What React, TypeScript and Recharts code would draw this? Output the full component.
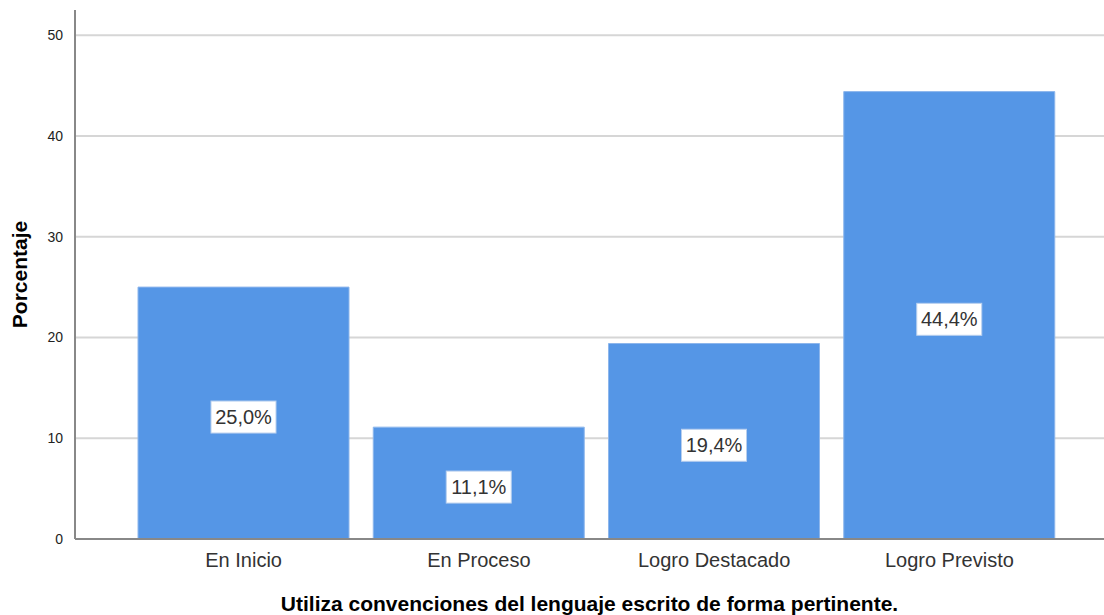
import { Bar, BarChart, CartesianGrid, LabelList, XAxis, YAxis } from "recharts";

const categories = ["En Inicio", "En Proceso", "Logro Destacado", "Logro Previsto"];
const percentages = [25.0, 11.1, 19.4, 44.4];
const yTicks = [0, 10, 20, 30, 40, 50];
const gridValues = [10, 20, 30, 40, 50];

const data = categories.map((label, i) => ({ label, pct: percentages[i] }));

const FONT = "'Liberation Sans', Arial, sans-serif";

function BoxLabel(props: any) {
  const { x, y, width, height, value } = props;
  const text = value.toFixed(1).replace(".", ",") + "%";
  const cx = x + width / 2;
  const cy = y + height / 2 + 4;
  const w = text.length * 11.4 + 8;
  const h = 32;
  return (
    <g>
      <rect x={cx - w / 2} y={cy - h / 2} width={w} height={h} fill="#ffffff" stroke="#b8cfee" strokeWidth={1} />
      <text x={cx} y={cy + 7} textAnchor="middle" fontSize={20} fontFamily={FONT} fill="#333">
        {text}
      </text>
    </g>
  );
}

export default function App() {
  return (
    <div style={{ position: "absolute", left: 0, top: 0, width: 1104, height: 615, background: "#fff" }}>
      <BarChart width={1104} height={615} data={data} margin={{ top: 10, right: 0, left: 0, bottom: 0 }} barSize={211}>
        <CartesianGrid vertical={false} horizontalValues={gridValues} stroke="#d6d6d6" strokeWidth={2} />
        <XAxis
          dataKey="label"
          height={76}
          padding={{ left: 51, right: 37 }}
          tickLine={false}
          axisLine={{ stroke: "#888", strokeWidth: 2 }}
          tick={{ fill: "#333", fontSize: 20, fontFamily: FONT }}
          tickMargin={8}
          label={{
            value: "Utiliza convenciones del lenguaje escrito de forma pertinente.",
            position: "insideBottom",
            offset: 4,
            fill: "#000",
            fontSize: 21,
            fontWeight: "bold",
            fontFamily: FONT,
          }}
        />
        <YAxis
          width={75}
          domain={[0, 52.5]}
          ticks={yTicks}
          tickLine={false}
          axisLine={{ stroke: "#888", strokeWidth: 2 }}
          tick={{ fill: "#222", fontSize: 14, fontFamily: FONT }}
          tickMargin={6}
          label={{
            value: "Porcentaje",
            angle: -90,
            position: "insideLeft",
            offset: 20,
            fill: "#000",
            fontSize: 21,
            fontWeight: "bold",
            fontFamily: FONT,
            style: { textAnchor: "middle" },
          }}
        />
        <Bar dataKey="pct" fill="#5596e6" stroke="#8db6ec" strokeWidth={1} isAnimationActive={false}>
          <LabelList dataKey="pct" content={<BoxLabel />} />
        </Bar>
      </BarChart>
    </div>
  );
}
